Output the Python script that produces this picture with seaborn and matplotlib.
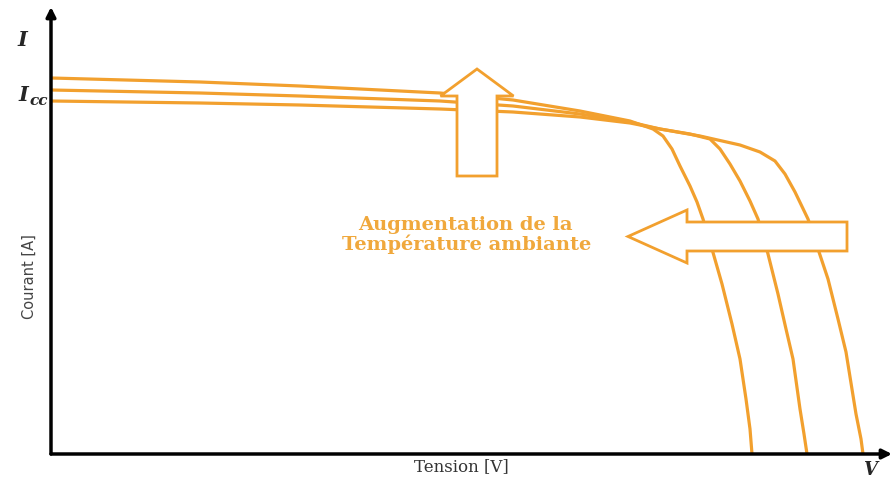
import matplotlib
matplotlib.use("Agg")
import matplotlib.pyplot as plt
import seaborn as sns
import pandas as pd
from matplotlib.patches import FancyArrow

# Courbes I-V (unités arbitraires : tension, courant)
tension_a = [0, 149, 249, 389, 462, 529, 579, 602, 612, 621, 629, 639, 646,
             652, 661, 671, 681, 689, 695, 699, 701]
courant_a = [376, 372, 368, 361, 354, 343, 333, 325, 318, 305, 288, 268, 252,
             235, 205, 170, 130, 95, 55, 25, 0]

tension_b = [0, 149, 249, 389, 462, 529, 579, 609, 639, 659, 669, 679, 689,
             699, 707, 717, 727, 735, 742, 749, 753, 756]
courant_b = [364, 361, 358, 353, 348, 340, 332, 325, 320, 315, 305, 290, 273,
             253, 235, 200, 160, 125, 95, 45, 20, 0]

tension_c = [0, 149, 249, 389, 462, 529, 579, 609, 649, 689, 709, 724, 734,
             744, 757, 767, 777, 787, 795, 805, 810, 812]
courant_c = [353, 351, 349, 345, 342, 337, 331, 325, 318, 309, 302, 293, 280,
             262, 235, 205, 175, 135, 102, 40, 15, 0]

courbes = pd.DataFrame({
    "tension": tension_a + tension_b + tension_c,
    "courant": courant_a + courant_b + courant_c,
    "courbe": ["a"] * len(tension_a) + ["b"] * len(tension_b) + ["c"] * len(tension_c),
})

orange = "#F2A02E"
orange_txt = "#F0A83C"

sns.set_style("white")
fig = plt.figure(figsize=(8.92, 4.81), dpi=100)
ax = fig.add_axes([51 / 892, 26 / 481, 841 / 892, 447 / 481])

sns.lineplot(data=courbes, x="tension", y="courant", units="courbe",
             estimator=None, sort=False, color=orange, lw=2.3, ax=ax, zorder=2)

ax.set_xlim(0, 841)
ax.set_ylim(0, 447)
for s in ax.spines.values():
    s.set_visible(False)
ax.set_xticks([])
ax.set_yticks([])
ax.set_xlabel("")
ax.set_ylabel("")

# axes avec flèches
for tip in [(1, 0), (0, 1)]:
    ax.annotate("", xy=tip, xytext=(0, 0), xycoords="axes fraction",
                arrowprops=dict(arrowstyle="-|>", lw=2.5, color="black",
                                mutation_scale=14, shrinkA=0, shrinkB=0))

# flèches creuses
ax.add_patch(FancyArrow(426, 278, 0, 107, width=40, head_width=73,
                        head_length=27, length_includes_head=True,
                        fc="white", ec=orange, lw=2, zorder=3))
ax.add_patch(FancyArrow(796, 217.5, -219, 0, width=29, head_width=53,
                        head_length=59, length_includes_head=True,
                        fc="white", ec=orange, lw=2, zorder=3))

ax.text(414, 230, "Augmentation de la", color=orange_txt,
        fontsize=14, fontweight="bold", family="DejaVu Serif",
        ha="center", va="center")
ax.text(416, 211, "Température ambiante", color=orange_txt,
        fontsize=14, fontweight="bold", family="DejaVu Serif",
        ha="center", va="center")

fig.text(22 / 892, 1 - 40 / 481, "I", fontsize=15, fontweight="bold",
         style="italic", family="DejaVu Serif", ha="center", va="center")
fig.text(28 / 892, 1 - 95 / 481, "I", fontsize=15,
         fontweight="bold", style="italic", family="DejaVu Serif",
         ha="right", va="center")
fig.text(29 / 892, 1 - 101 / 481, "cc", fontsize=11, fontweight="bold",
         style="italic", family="DejaVu Serif", ha="left", va="center")
fig.text(870 / 892, 1 - 470 / 481, "V", fontsize=13, fontweight="bold",
         style="italic", family="DejaVu Serif", ha="center", va="center")

fig.text(29 / 892, 1 - 277 / 481, "Courant [A]", fontsize=10.5, rotation=90,
         family="DejaVu Sans", color="#444444",
         ha="center", va="center")
fig.text(461 / 892, 1 - 467 / 481, "Tension [V]", fontsize=12,
         family="DejaVu Serif", color="#333333",
         ha="center", va="center")

fig.savefig("out.png", dpi=100)
